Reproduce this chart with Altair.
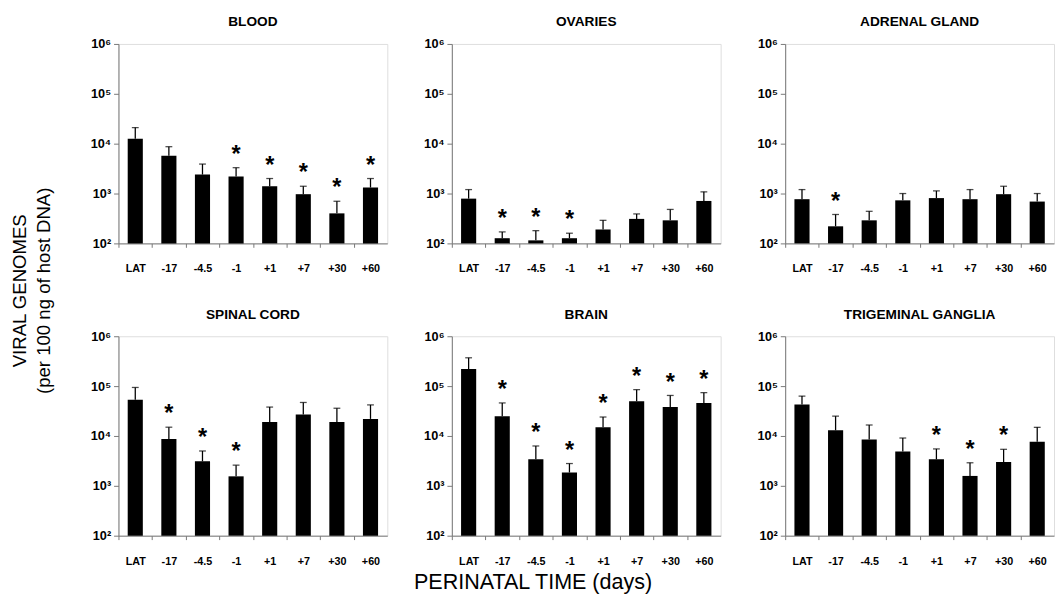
import altair as alt
import pandas as pd

categories = ["LAT", "-17", "-4.5", "-1", "+1", "+7", "+30", "+60"]
panel_names = ["BLOOD", "OVARIES", "ADRENAL GLAND", "SPINAL CORD", "BRAIN", "TRIGEMINAL GANGLIA"]

blood_mean = [12600, 5700, 2400, 2200, 1400, 970, 400, 1320]
blood_err = [21000, 8700, 3900, 3300, 2000, 1400, 700, 2000]
blood_star = [0, 0, 0, 1, 1, 1, 1, 1]

ovaries_mean = [790, 127, 115, 127, 190, 310, 290, 710]
ovaries_err = [1200, 170, 180, 160, 290, 390, 480, 1080]
ovaries_star = [0, 1, 1, 1, 0, 0, 0, 0]

adrenal_mean = [770, 220, 290, 730, 810, 770, 970, 690]
adrenal_err = [1200, 380, 440, 1000, 1130, 1200, 1400, 1000]
adrenal_star = [0, 1, 0, 0, 0, 0, 0, 0]

spinal_mean = [53000, 8700, 3100, 1550, 19000, 27000, 19000, 22000]
spinal_err = [94000, 15000, 5000, 2600, 38000, 47000, 36000, 42000]
spinal_star = [0, 1, 1, 1, 0, 0, 0, 0]

brain_mean = [220000, 25000, 3400, 1850, 15000, 50000, 38000, 46000]
brain_err = [370000, 46000, 6300, 2800, 24000, 85000, 65000, 74000]
brain_star = [0, 1, 1, 1, 1, 1, 1, 1]

trig_mean = [43000, 13000, 8500, 4900, 3400, 1580, 3000, 7700]
trig_err = [63000, 25000, 16600, 9100, 5500, 2900, 5400, 14900]
trig_star = [0, 0, 0, 0, 1, 1, 1, 0]

y_ticks = [100, 1000, 10000, 100000, 1000000]

W = 275
H = 204
STEP = W / len(categories)
FONT = "Liberation Sans"


def panel(name, mean, err, star):
    df = pd.DataFrame({
        "time": categories,
        "mean": mean,
        "err": err,
        "star": ["*" if s else "" for s in star],
    })
    base = alt.Chart(df)
    x = alt.X(
        "time:N", sort=categories,
        scale=alt.Scale(paddingInner=0.55, paddingOuter=0.275),
        axis=alt.Axis(title=None, labelAngle=0, tickOffset=-STEP / 2, labelOffset=STEP / 2,
                      tickSize=4, labelPadding=16, labelFontSize=11, labelFontWeight="bold",
                      labelColor="black", domainColor="#777", tickColor="#777", labelFont=FONT),
    )
    y = alt.Y(
        "mean:Q",
        scale=alt.Scale(type="log", domain=[100, 1000000]),
        axis=alt.Axis(title=None, values=y_ticks, grid=False, tickSize=5, labelFontSize=13,
                      labelFontWeight="bold", labelColor="black", domainColor="#777",
                      tickColor="#777", labelFont=FONT, labelPadding=3,
                      labelExpr="datum.value == 100 ? '10²' : datum.value == 1000 ? '10³' : "
                                "datum.value == 10000 ? '10⁴' : datum.value == 100000 ? '10⁵' : '10⁶'"),
    )
    bars = base.mark_bar(color="black").encode(x=x, y=y, y2=alt.datum(100))
    rule = base.mark_rule(color="black", strokeWidth=1.3).encode(x=x, y=alt.Y("mean:Q"), y2="err:Q")
    cap = base.mark_tick(color="black", size=7, thickness=1.3).encode(x=x, y=alt.Y("err:Q"))
    stars = base.mark_text(fontSize=24, fontWeight="bold", font=FONT, baseline="middle", dy=-13,
                           color="black").encode(x=x, y=alt.Y("err:Q"), text="star:N")
    return alt.layer(bars, rule, cap, stars).properties(
        width=W, height=H,
        title=alt.TitleParams(name, fontSize=14, fontWeight="bold", font=FONT, offset=9, color="black"),
    )


p = [
    panel(panel_names[0], blood_mean, blood_err, blood_star),
    panel(panel_names[1], ovaries_mean, ovaries_err, ovaries_star),
    panel(panel_names[2], adrenal_mean, adrenal_err, adrenal_star),
    panel(panel_names[3], spinal_mean, spinal_err, spinal_star),
    panel(panel_names[4], brain_mean, brain_err, brain_star),
    panel(panel_names[5], trig_mean, trig_err, trig_star),
]

row1 = alt.hconcat(p[0], p[1], p[2], spacing=35)
row2 = alt.hconcat(p[3], p[4], p[5], spacing=35)
grid = alt.vconcat(row1, row2, spacing=33).properties(
    title=alt.TitleParams(["VIRAL GENOMES", "(per 100 ng of host DNA)"], orient="left", anchor="middle",
                          fontSize=19, fontWeight="normal", font=FONT, lineHeight=24,
                          offset=37, color="black")
)
chart = alt.vconcat(grid).properties(
    padding={"left": 3, "top": 0, "right": 0, "bottom": 0},
    title=alt.TitleParams("PERINATAL TIME (days)", orient="bottom", anchor="middle", fontSize=22,
                          fontWeight="normal", font=FONT, offset=6, color="black")
).configure_view(stroke=None).configure(font=FONT)

chart.save("out.html", embed_options={"renderer": "svg", "actions": False})
